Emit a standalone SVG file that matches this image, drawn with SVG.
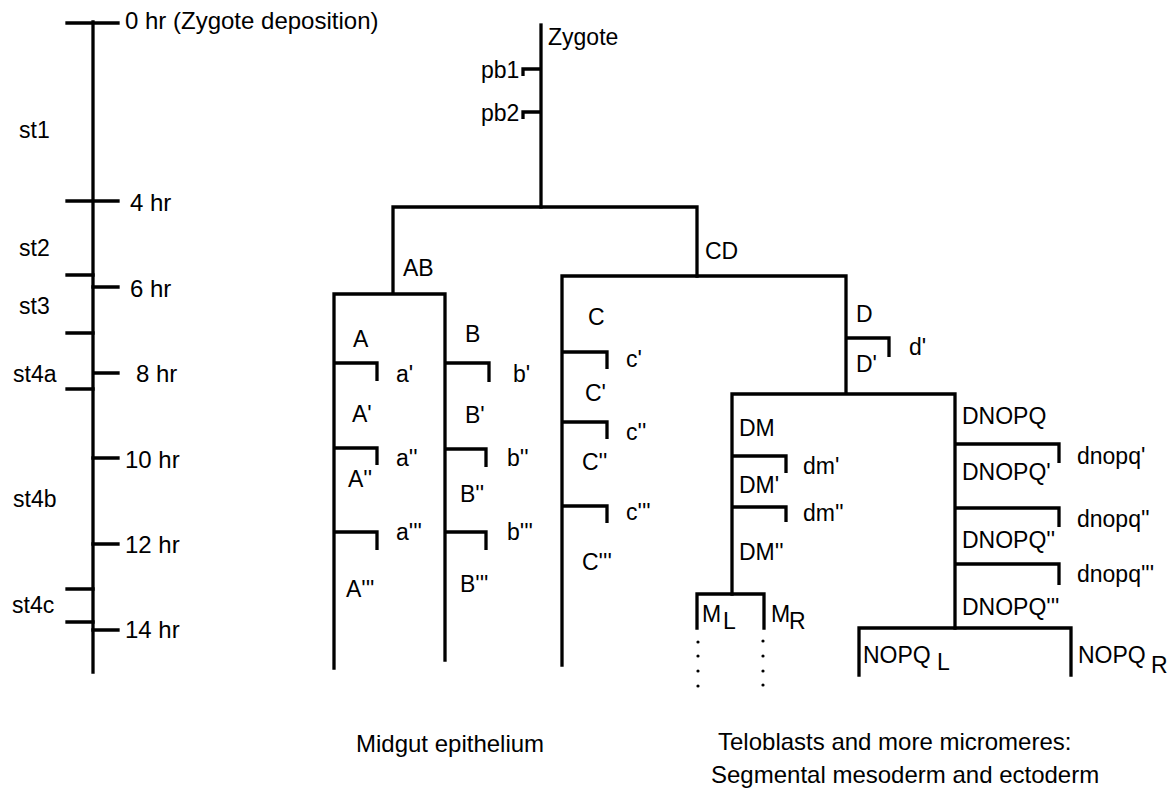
<svg xmlns="http://www.w3.org/2000/svg" width="1176" height="801" viewBox="0 0 1176 801">
<style>
  .ln { fill: none; stroke: #000; stroke-width: 3.3; stroke-linecap: square; stroke-linejoin: miter; }
  .br { fill: none; stroke: #000; stroke-width: 3.3; }
  text { font-family: "Liberation Sans", Arial, sans-serif; font-size: 23px; fill: #000; }
  .big { font-size: 24px; }
  .dot { fill: #000; }
</style>
<rect width="1176" height="801" fill="#fff"/>

<g id="timeline">
  <path class="ln" d="M93,22 V672"/>
  <path class="ln" d="M67,23 H118 M67,201 H118 M67,275 H93 M93,287 H118 M67,333 H93 M94,373 H118 M67,389 H93 M93,458 H118 M93,544 H118 M67,589 H93 M67,622 H93 M93,630 H118"/>
  <text class="big" x="125" y="29">0 hr (Zygote deposition)</text>
  <text class="big" x="130" y="211">4 hr</text>
  <text class="big" x="130" y="297">6 hr</text>
  <text class="big" x="136" y="382">8 hr</text>
  <text class="big" x="125" y="468">10 hr</text>
  <text class="big" x="125" y="553">12 hr</text>
  <text class="big" x="125" y="638">14 hr</text>
  <text x="19" y="138">st1</text>
  <text x="19" y="256">st2</text>
  <text x="19" y="314">st3</text>
  <text x="13" y="382">st4a</text>
  <text x="13" y="507">st4b</text>
  <text x="12" y="613">st4c</text>
</g>

<g id="connectors">
  <path class="ln" d="M541,25 V207"/>
  <path class="br" d="M541,69 H523 V76"/>
  <path class="br" d="M541,112 H523 V119"/>
  <path class="ln" d="M393,293 V207 H697 V276"/>
  <path class="ln" d="M334,668 V294 H445 V660"/>
  <path class="ln" d="M562,665 V276 H846 V393"/>
  <path class="br" d="M334,363 H377 V381"/>
  <path class="br" d="M334,448 H377 V465"/>
  <path class="br" d="M334,532 H377 V550"/>
  <path class="br" d="M445,363 H489 V382"/>
  <path class="br" d="M445,449 H486 V467"/>
  <path class="br" d="M445,532 H486 V550"/>
  <path class="br" d="M562,352 H607 V369"/>
  <path class="br" d="M562,422 H607 V439"/>
  <path class="br" d="M562,506 H607 V523"/>
  <path class="br" d="M846,338 H889 V357"/>
  <path class="ln" d="M732,594 V394 H955 V628"/>
  <path class="br" d="M732,456 H786 V473"/>
  <path class="br" d="M732,507 H786 V522"/>
  <path class="br" d="M955,444 H1059 V463"/>
  <path class="br" d="M955,508 H1059 V527"/>
  <path class="br" d="M955,564 H1059 V585"/>
  <path class="ln" d="M697,628 V594 H764 V628"/>
  <path class="ln" d="M859,675 V628 H1071 V675"/>
  <circle class="dot" cx="698" cy="642" r="1.6"/>
  <circle class="dot" cx="698" cy="656" r="1.6"/>
  <circle class="dot" cx="698" cy="671" r="1.6"/>
  <circle class="dot" cx="698" cy="686" r="1.6"/>
  <circle class="dot" cx="763" cy="641" r="1.6"/>
  <circle class="dot" cx="763" cy="656" r="1.6"/>
  <circle class="dot" cx="763" cy="671" r="1.6"/>
  <circle class="dot" cx="763" cy="685" r="1.6"/>
</g>

<g id="zygote"><text x="548" y="45">Zygote</text></g>
<g id="pb1"><text x="481" y="78">pb1</text></g>
<g id="pb2"><text x="481" y="121">pb2</text></g>
<g id="AB"><text x="403" y="276">AB</text></g>
<g id="CD"><text x="705" y="259">CD</text></g>

<g id="A-lineage">
  <text x="353" y="347">A</text>
  <text x="352" y="422">A'</text>
  <text x="348" y="487">A''</text>
  <text x="346" y="597">A'''</text>
  <text x="396" y="382">a'</text>
  <text x="396" y="466">a''</text>
  <text x="396" y="540">a'''</text>
</g>
<g id="B-lineage">
  <text x="465" y="342">B</text>
  <text x="465" y="423">B'</text>
  <text x="460" y="502">B''</text>
  <text x="460" y="592">B'''</text>
  <text x="513" y="382">b'</text>
  <text x="507" y="466">b''</text>
  <text x="507" y="540">b'''</text>
</g>
<g id="C-lineage">
  <text x="588" y="325">C</text>
  <text x="585" y="401">C'</text>
  <text x="582" y="470">C''</text>
  <text x="582" y="570">C'''</text>
  <text x="626" y="367">c'</text>
  <text x="626" y="440">c''</text>
  <text x="626" y="520">c'''</text>
</g>
<g id="D-lineage">
  <text x="856" y="322">D</text>
  <text x="856" y="372">D'</text>
  <text x="909" y="355">d'</text>
</g>
<g id="DM-lineage">
  <text x="739" y="436">DM</text>
  <text x="739" y="493">DM'</text>
  <text x="739" y="560">DM''</text>
  <text x="803" y="474">dm'</text>
  <text x="803" y="521">dm''</text>
</g>
<g id="M-teloblasts">
  <text x="702" y="622">M</text><text x="723" y="629">L</text>
  <text x="771" y="622">M</text><text x="789" y="629">R</text>
</g>
<g id="DNOPQ-lineage">
  <text x="962" y="424">DNOPQ</text>
  <text x="962" y="480">DNOPQ'</text>
  <text x="962" y="548">DNOPQ''</text>
  <text x="962" y="615">DNOPQ'''</text>
  <text x="1077" y="464">dnopq'</text>
  <text x="1077" y="527">dnopq''</text>
  <text x="1077" y="582">dnopq'''</text>
</g>
<g id="NOPQ-teloblasts">
  <text x="863" y="663">NOPQ</text><text x="937" y="670">L</text>
  <text x="1078" y="663">NOPQ</text><text x="1151" y="673">R</text>
</g>
<g id="captions">
  <text class="big" x="356" y="752">Midgut epithelium</text>
  <text class="big" x="718" y="750">Teloblasts and more micromeres:</text>
  <text class="big" x="711" y="783">Segmental mesoderm and ectoderm</text>
</g>
</svg>
